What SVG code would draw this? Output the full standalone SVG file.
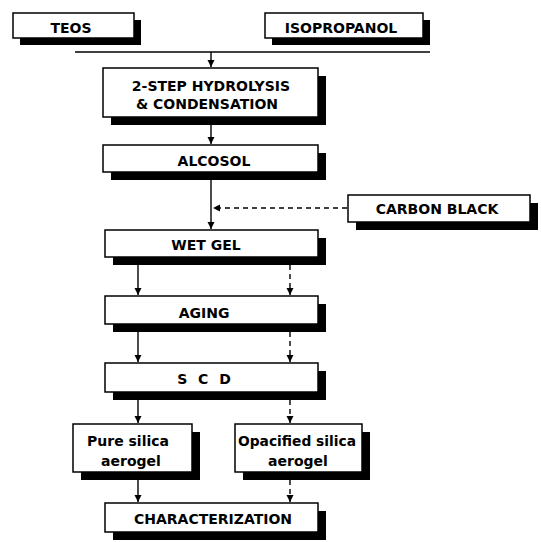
<svg xmlns="http://www.w3.org/2000/svg" width="541" height="542" viewBox="0 0 541 542">
<defs>
<marker id="ah" markerWidth="8" markerHeight="8" refX="7" refY="4" orient="auto" markerUnits="userSpaceOnUse">
<path d="M0,0.5 L7,4 L0,7.5 Z" fill="#000"/>
</marker>
</defs>
<style>
.box{fill:#fff;stroke:#000;stroke-width:1.5}
.sh{fill:#000}
.t{font-family:"DejaVu Sans",sans-serif;font-weight:bold;font-size:14px;fill:#000;text-anchor:middle}
.c{stroke:#000;stroke-width:1.4;fill:none}
.d{stroke:#000;stroke-width:1.4;fill:none;stroke-dasharray:5 4}
</style>
<rect width="541" height="542" fill="#fff"/>
<g id="teos"><rect class="sh" x="20" y="20" width="121" height="25"/><rect class="box" x="13" y="13" width="121" height="25"/><text class="t" x="71" y="33">TEOS</text></g>
<g id="isopropanol"><rect class="sh" x="272" y="20" width="158" height="25"/><rect class="box" x="265" y="13" width="158" height="25"/><text class="t" x="341" y="33">ISOPROPANOL</text></g>
<g id="hydrolysis"><rect class="sh" x="111" y="76" width="215" height="49"/><rect class="box" x="103" y="68" width="215" height="49"/><text class="t" x="211" y="91">2-STEP HYDROLYSIS</text><text class="t" x="207" y="109">&amp; CONDENSATION</text></g>
<g id="alcosol"><rect class="sh" x="111" y="153" width="215" height="27"/><rect class="box" x="103" y="145" width="215" height="27"/><text class="t" x="214" y="166">ALCOSOL</text></g>
<g id="carbonblack"><rect class="sh" x="356" y="203" width="182" height="27"/><rect class="box" x="348" y="195" width="182" height="27"/><text class="t" x="437" y="214">CARBON BLACK</text></g>
<g id="wetgel"><rect class="sh" x="113" y="238" width="213" height="27"/><rect class="box" x="105" y="230" width="213" height="27"/><text class="t" x="206" y="250">WET GEL</text></g>
<g id="aging"><rect class="sh" x="113" y="304" width="213" height="28"/><rect class="box" x="105" y="296" width="213" height="28"/><text class="t" x="204" y="318">AGING</text></g>
<g id="scd"><rect class="sh" x="113" y="371" width="213" height="29"/><rect class="box" x="105" y="363" width="213" height="29"/><text class="t" x="204" y="384" word-spacing="6">S C D</text></g>
<g id="pure"><rect class="sh" x="81" y="432" width="119" height="48"/><rect class="box" x="73" y="424" width="119" height="48"/><text class="t" x="128" y="446">Pure silica</text><text class="t" x="131" y="466">aerogel</text></g>
<g id="opacified"><rect class="sh" x="243" y="432" width="127" height="48"/><rect class="box" x="235" y="424" width="127" height="48"/><text class="t" x="297" y="446" textLength="118" lengthAdjust="spacingAndGlyphs">Opacified silica</text><text class="t" x="298" y="466">aerogel</text></g>
<g id="characterization"><rect class="sh" x="113" y="511" width="213" height="29"/><rect class="box" x="105" y="503" width="213" height="29"/><text class="t" x="213" y="524">CHARACTERIZATION</text></g>
<g id="connectors">
<path class="c" d="M75,52 H430"/>
<path class="c" d="M211,52 V67" marker-end="url(#ah)"/>
<path class="c" d="M211,125 V144" marker-end="url(#ah)"/>
<path class="c" d="M211,180 V229" marker-end="url(#ah)"/>
<path class="d" d="M347,208 H213" marker-end="url(#ah)"/>
<path class="c" d="M138,265 V295" marker-end="url(#ah)"/>
<path class="d" d="M290,265 V295" marker-end="url(#ah)"/>
<path class="c" d="M138,332 V362" marker-end="url(#ah)"/>
<path class="d" d="M290,332 V362" marker-end="url(#ah)"/>
<path class="c" d="M138,400 V423" marker-end="url(#ah)"/>
<path class="d" d="M290,400 V423" marker-end="url(#ah)"/>
<path class="c" d="M138,480 V502" marker-end="url(#ah)"/>
<path class="d" d="M290,480 V502" marker-end="url(#ah)"/>
</g>
</svg>
